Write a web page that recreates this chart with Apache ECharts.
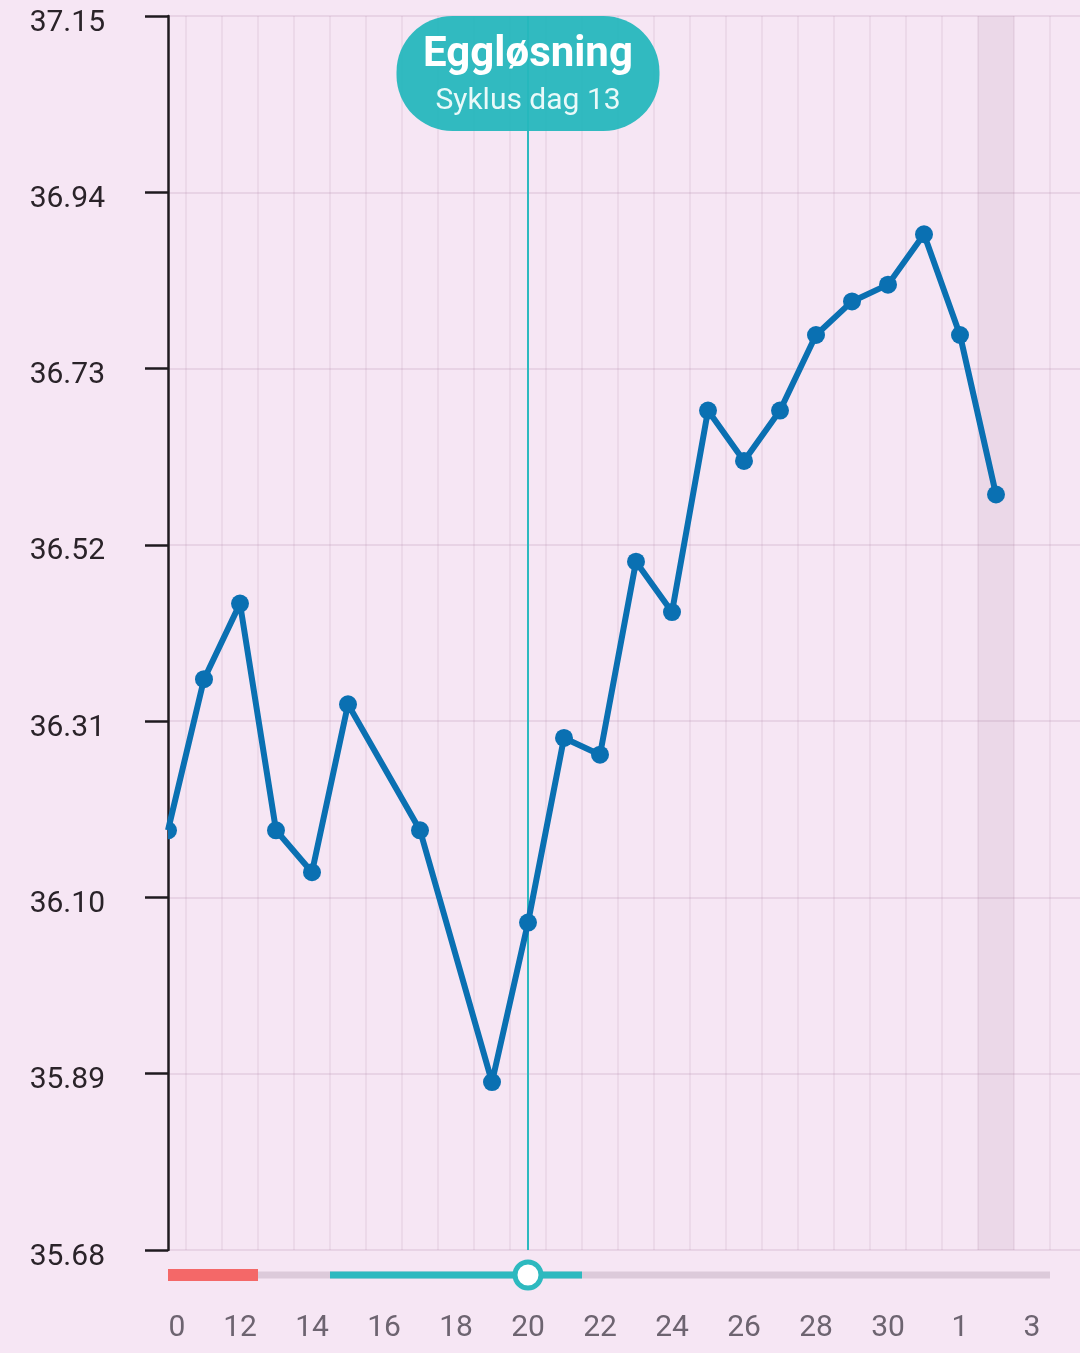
<!DOCTYPE html>
<html>
<head>
<meta charset="utf-8">
<script src="https://cdn.jsdelivr.net/npm/echarts@6/dist/echarts.min.js"></script>
<style>
html,body{margin:0;padding:0;background:#f6e6f4;overflow:hidden;}
#chart{width:1080px;height:1353px;}
</style>
</head>
<body>
<div id="chart"></div>
<script>
// ---- data ----
const dayLabels = ['10','11','12','13','14','15','16','17','18','19','20','21','22','23','24','25','26','27','28','29','30','31','1','2','3','4'];
const temps = [36.18,36.36,36.45,36.18,36.13,36.33,null,36.18,null,35.88,36.07,36.29,36.27,36.50,36.44,36.68,36.62,36.68,36.77,36.81,36.83,36.89,36.77,36.58];
const yTicks = [35.68,35.89,36.10,36.31,36.52,36.73,36.94,37.15];
const periodDays = ['10','11','12'];
const fertileDays = ['15','16','17','18','19','20','21'];
const ovulationDay = '20';
const cycleLastDay = '3';
const todayDay = '2';
const ovTitle = 'Eggløsning';
const ovSub = 'Syklus dag 13';

// ---- build ----
const idx = d => dayLabels.indexOf(d);
const tempPts = [];
temps.forEach((t,i)=>{
  if(t===null) return;
  if(i===0) tempPts.push({value:[i,t], symbol:'path://M0,-1A1,1 0 0 1 0,1Z', symbolSize:[9,18], symbolOffset:[4.5,0]});
  else tempPts.push([i,t]);
});
const ovIdx = idx(ovulationDay);
const pStart = idx(periodDays[0]), pEnd = idx(periodDays[periodDays.length-1]);
const fStart = idx(fertileDays[0]), fEnd = idx(fertileDays[fertileDays.length-1]);
const lastIdx = idx(cycleLastDay);
const todayIdx = dayLabels.lastIndexOf(todayDay);
const XMAX = 26;

const BLUE = '#0a70b2', TEAL = '#2db9bf', RED = '#f46868', TRACK = '#dccada';
const FONT = 'Roboto';

const chart = echarts.init(document.getElementById('chart'), null, {renderer:'canvas'});
chart.setOption({
  animation:false,
  backgroundColor:'#f6e6f4',
  grid:[
    {left:168, top:16, width:936, bottom:103, outerBoundsMode:'none', containLabel:false},
    {left:168, top:1255, width:936, height:40, outerBoundsMode:'none', containLabel:false}
  ],
  xAxis:[
    {gridIndex:0, type:'value', min:0, max:XMAX, interval:1,
     axisLine:{show:false}, axisTick:{show:false},
     splitLine:{show:false},
     minorTick:{show:false, splitNumber:2},
     minorSplitLine:{show:true, lineStyle:{color:'rgba(170,130,160,0.13)', width:2}},
     axisLabel:{margin:63, fontSize:30, fontFamily:FONT, color:'#6d6470',
       formatter:v=>{const i=Math.round(v); if(i%2||i>=dayLabels.length) return ''; if(i===0) return '{c|'+dayLabels[0].slice(-1)+'}'; return dayLabels[i];},
       rich:{c:{fontSize:30, fontFamily:FONT, color:'#6d6470', padding:[0,0,0,18]}}}
    },
    {gridIndex:1, type:'value', min:0, max:XMAX, show:false}
  ],
  yAxis:[
    {gridIndex:0, type:'value', min:yTicks[0], max:yTicks[yTicks.length-1], interval:0.21,
     axisLine:{show:true, lineStyle:{color:'#1f1a1f', width:2.5}},
     axisTick:{show:true, length:23, lineStyle:{color:'#1f1a1f', width:2.5}},
     axisLabel:{margin:63, fontSize:30, fontFamily:FONT, color:'#2a2329',
       formatter:v=>'{v|'+v.toFixed(2)+'}',
       rich:{v:{fontSize:30, fontFamily:FONT, color:'#2a2329', padding:[14,0,0,0]}}},
     splitLine:{show:true, lineStyle:{color:'rgba(170,130,160,0.18)', width:2}}
    },
    {gridIndex:1, type:'value', min:-1, max:1, show:false}
  ],
  series:[
    {type:'line', xAxisIndex:0, yAxisIndex:0, data:tempPts, z:5,
     lineStyle:{color:BLUE, width:6}, itemStyle:{color:BLUE},
     symbol:'circle', symbolSize:18, showSymbol:true,
     markArea:{silent:true, itemStyle:{color:'rgba(140,100,130,0.10)'},
       data:[[{xAxis:todayIdx-0.5},{xAxis:todayIdx+0.5}]]},
     markLine:{silent:true, symbol:'none', label:{show:false},
       lineStyle:{color:TEAL, width:2, type:'solid'},
       data:[{xAxis:ovIdx}]},
     markPoint:{silent:true, symbol:'circle', symbolSize:0,
       data:[{coord:[ovIdx, yTicks[yTicks.length-1]]}],
       label:{show:true, position:'bottom', distance:0,
         formatter:'{t|'+ovTitle+'}\n{s|'+ovSub+'}',
         backgroundColor:'rgba(38,183,189,0.95)', borderRadius:56,
         width:263, padding:[14,0,9,0], align:'center',
         rich:{
           t:{fontFamily:FONT, fontWeight:'bold', fontSize:42, color:'#ffffff', lineHeight:50, align:'center'},
           s:{fontFamily:FONT, fontSize:30, color:'#e9f9f9', lineHeight:42, align:'center'}
         }}}
    },
    {type:'line', xAxisIndex:1, yAxisIndex:1, symbol:'none', silent:true,
     data:[[0,0],[lastIdx+0.5,0]], lineStyle:{color:TRACK, width:7}},
    {type:'line', xAxisIndex:1, yAxisIndex:1, symbol:'none', silent:true,
     data:[[Math.max(0,pStart-0.5),0],[pEnd+0.5,0]], lineStyle:{color:RED, width:12}},
    {type:'line', xAxisIndex:1, yAxisIndex:1, symbol:'none', silent:true,
     data:[[fStart-0.5,0],[fEnd+0.5,0]], lineStyle:{color:TEAL, width:7}},
    {type:'scatter', xAxisIndex:1, yAxisIndex:1, silent:true, z:5,
     data:[[ovIdx,0]], symbol:'circle', symbolSize:26,
     itemStyle:{color:'#ffffff', borderColor:TEAL, borderWidth:5, opacity:1}}
  ]
});
</script>
</body>
</html>
